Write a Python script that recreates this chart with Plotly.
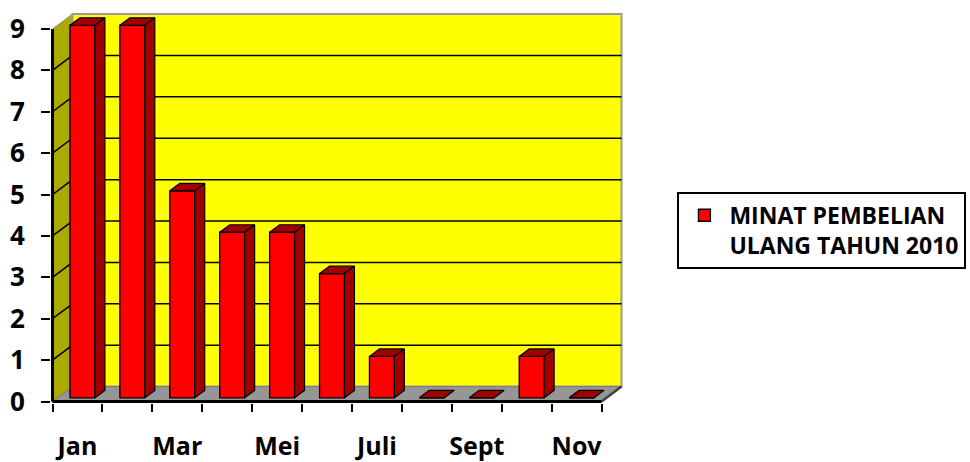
import plotly.graph_objects as go

# ---- data ----
months = ["Jan", "Feb", "Mar", "Apr", "Mei", "Jun", "Juli", "Agust", "Sept", "Okt", "Nov"]
values = [9, 9, 5, 4, 4, 3, 1, 0, 0, 1, 0]
label_months = ["Jan", "Mar", "Mei", "Juli", "Sept", "Nov"]
y_ticks = [0, 1, 2, 3, 4, 5, 6, 7, 8, 9]
series_name = "MINAT PEMBELIAN<br>ULANG TAHUN 2010"

# ---- 3D geometry (data units) ----
DX, DY = 0.4, 0.36      # depth of walls
T1, T2 = 0.25, 0.75     # bar front/back depth fraction
BW = 0.5                # bar width
YMAX = max(y_ticks)

n = len(months)
xs = list(range(n))
idx = {m: i for i, m in enumerate(months)}
x_left, x_right = -0.5, n - 0.5

W, H = 970, 462
px_x, px_y = 50.0, 41.45
x0_px, y0_px = 52.0, 402.0
xr = [x_left - 1.5 / px_x, x_right + DX + 0.05]
yr = [-1.5 / px_y, YMAX + DY + 0.05]
l_m = x0_px + (xr[0] - x_left) * px_x
r_m = W - (x0_px + (xr[1] - x_left) * px_x)
b_m = H - (y0_px - yr[0] * px_y)
t_m = y0_px - yr[1] * px_y

RED = "#FF0000"
DARK = "#A00000"
AXFONT = dict(family="Open Sans", size=26, color="black", weight="bold")
XFONT = dict(family="Open Sans", size=25, color="black", weight="bold")
LEGFONT = dict(family="Open Sans", size=23, color="black", weight="bold")

fig = go.Figure()

# front faces
fig.add_trace(go.Bar(
    x=[i + T1 * DX for i in xs], y=values, base=T1 * DY, width=BW,
    marker=dict(color=RED, line=dict(color="black", width=1.3)),
    name=series_name, showlegend=True, hoverinfo="skip",
))

ddx = (T2 - T1) * DX
ddy = (T2 - T1) * DY
for i, v in zip(xs, values):
    xa = i - BW / 2 + T1 * DX
    xb = i + BW / 2 + T1 * DX
    b1 = T1 * DY
    # top face
    fig.add_trace(go.Scatter(
        x=[xa, xb, xb + ddx, xa + ddx, xa],
        y=[v + b1, v + b1, v + b1 + ddy, v + b1 + ddy, v + b1],
        fill="toself", fillcolor=DARK, mode="lines",
        line=dict(color="black", width=1.2), showlegend=False, hoverinfo="skip"))
    if v > 0:
        # side face
        fig.add_trace(go.Scatter(
            x=[xb, xb, xb + ddx, xb + ddx, xb],
            y=[b1, v + b1, v + b1 + ddy, b1 + ddy, b1],
            fill="toself", fillcolor=DARK, mode="lines",
            line=dict(color="black", width=1.2), showlegend=False, hoverinfo="skip"))

shapes = []
# left wall
shapes.append(dict(type="path", layer="below",
    path=f"M {x_left},0 L {x_left+DX},{DY} L {x_left+DX},{YMAX+DY} L {x_left},{YMAX} Z",
    fillcolor="#AAAA00", line=dict(color="#8C8C8C", width=1)))
# back wall
shapes.append(dict(type="rect", layer="below", x0=x_left + DX, y0=DY, x1=x_right + DX, y1=YMAX + DY,
    fillcolor="#FFFF00", line=dict(color="#9A9A9A", width=2)))
# floor
shapes.append(dict(type="path", layer="below",
    path=f"M {x_left},0 L {x_right},0 L {x_right+DX},{DY} L {x_left+DX},{DY} Z",
    fillcolor="#969696", line=dict(color="#7A7A7A", width=1)))
# gridlines
for k in y_ticks[1:-1]:
    shapes.append(dict(type="line", layer="below", x0=x_left + DX, x1=x_right + DX, y0=k + DY, y1=k + DY,
                       line=dict(color="black", width=1.5)))
    shapes.append(dict(type="line", layer="below", x0=x_left, x1=x_left + DX, y0=k, y1=k + DY,
                       line=dict(color="black", width=1.5)))
# floor right edge
shapes.append(dict(type="line", layer="above", x0=x_right, x1=x_right + DX, y0=0, y1=DY,
                   line=dict(color="#404040", width=2.5)))
# axis lines
shapes.append(dict(type="line", layer="above", x0=x_left, x1=x_left, y0=0, y1=YMAX,
                   line=dict(color="black", width=3)))
shapes.append(dict(type="line", layer="above", x0=x_left, x1=x_right, y0=0, y1=0,
                   line=dict(color="black", width=3)))

fig.update_layout(
    width=W, height=H,
    margin=dict(l=l_m, r=r_m, t=t_m, b=b_m, pad=0, autoexpand=False),
    paper_bgcolor="white", plot_bgcolor="white",
    shapes=shapes,
    showlegend=True,
    legend=dict(
        x=(678 - l_m) / (W - l_m - r_m), y=(H - b_m - 192) / (H - b_m - t_m),
        xanchor="left", yanchor="top",
        bordercolor="black", borderwidth=2, bgcolor="white",
        font=LEGFONT, valign="top", tracegroupgap=0, itemwidth=40,
    ),
    xaxis=dict(
        range=xr, showgrid=False, zeroline=False, showline=False, automargin=False,
        tickmode="array", tickvals=[idx[m] for m in label_months], ticktext=label_months,
        ticks="outside", ticklen=21, tickcolor="rgba(0,0,0,0)", tickfont=XFONT,
        minor=dict(tickmode="array", tickvals=[i - 0.5 for i in range(n + 1)],
                   ticks="outside", ticklen=8, tickwidth=2, tickcolor="black"),
    ),
    yaxis=dict(
        range=yr, showgrid=False, zeroline=False, showline=False, automargin=False,
        tickmode="array", tickvals=y_ticks,
        ticks="outside", ticklen=9, tickwidth=2, tickcolor="black",
        tickfont=AXFONT, ticklabelstandoff=11,
    ),
)

fig.write_html("out.html")
